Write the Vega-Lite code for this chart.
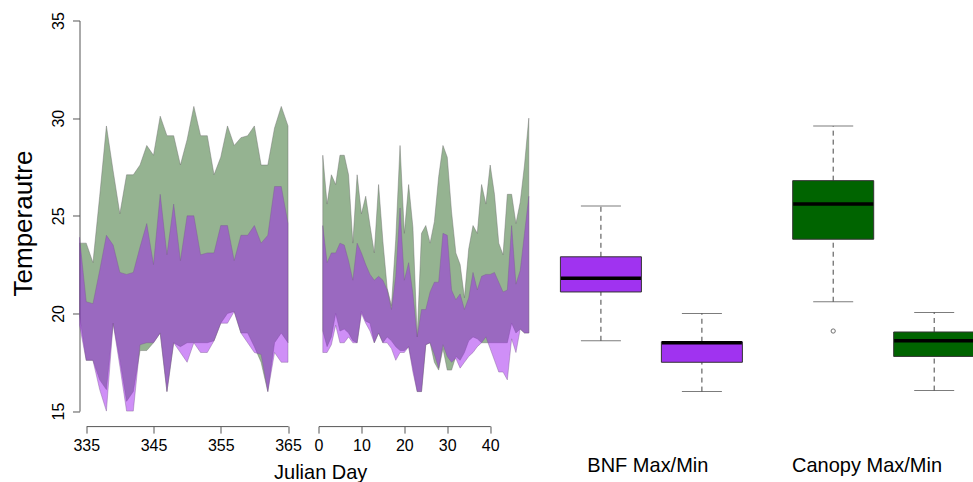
{
  "$schema": "https://vega.github.io/schema/vega-lite/v6.json",
  "background": "white",
  "padding": {"left": 10.5, "top": 11.5, "right": 0, "bottom": 0},
  "bounds": "flush",
  "spacing": 30,
  "config": {
    "view": {"stroke": null},
    "font": "Liberation Sans",
    "axis": {"grid": false, "labelFont": "Liberation Sans", "titleFont": "Liberation Sans", "labelColor": "black", "titleColor": "black", "domainColor": "#555", "tickColor": "#555", "titleFontWeight": "normal", "labelFlush": false, "labelOverlap": false}
  },
  "datasets": {
    "dec": [
      {"day": 334, "can_max": 23.6, "can_min": 19.9, "bnf_max": 23.9, "bnf_min": 19.4},
      {"day": 335, "can_max": 23.6, "can_min": 17.6, "bnf_max": 20.6, "bnf_min": 17.6},
      {"day": 336, "can_max": 22.6, "can_min": 17.6, "bnf_max": 20.5, "bnf_min": 17.6},
      {"day": 337, "can_max": 26.0, "can_min": 16.6, "bnf_max": 22.2, "bnf_min": 16.1},
      {"day": 338, "can_max": 29.6, "can_min": 16.1, "bnf_max": 24.0, "bnf_min": 15.0},
      {"day": 339, "can_max": 27.3, "can_min": 19.5, "bnf_max": 23.5, "bnf_min": 19.5},
      {"day": 340, "can_max": 25.1, "can_min": 17.6, "bnf_max": 22.1, "bnf_min": 17.3},
      {"day": 341, "can_max": 27.1, "can_min": 15.5, "bnf_max": 22.0, "bnf_min": 15.0},
      {"day": 342, "can_max": 27.1, "can_min": 16.0, "bnf_max": 22.1, "bnf_min": 15.0},
      {"day": 343, "can_max": 27.6, "can_min": 18.1, "bnf_max": 23.4, "bnf_min": 18.4},
      {"day": 344, "can_max": 28.6, "can_min": 18.1, "bnf_max": 24.6, "bnf_min": 18.5},
      {"day": 345, "can_max": 28.1, "can_min": 18.5, "bnf_max": 22.5, "bnf_min": 18.5},
      {"day": 346, "can_max": 30.1, "can_min": 19.0, "bnf_max": 26.1, "bnf_min": 19.0},
      {"day": 347, "can_max": 29.1, "can_min": 16.0, "bnf_max": 23.0, "bnf_min": 16.0},
      {"day": 348, "can_max": 29.1, "can_min": 18.5, "bnf_max": 25.6, "bnf_min": 18.5},
      {"day": 349, "can_max": 27.6, "can_min": 18.3, "bnf_max": 22.7, "bnf_min": 18.0},
      {"day": 350, "can_max": 28.9, "can_min": 18.5, "bnf_max": 25.0, "bnf_min": 17.5},
      {"day": 351, "can_max": 30.6, "can_min": 18.5, "bnf_max": 25.0, "bnf_min": 18.5},
      {"day": 352, "can_max": 29.1, "can_min": 18.5, "bnf_max": 23.0, "bnf_min": 18.0},
      {"day": 353, "can_max": 29.1, "can_min": 18.5, "bnf_max": 23.1, "bnf_min": 18.0},
      {"day": 354, "can_max": 27.1, "can_min": 18.6, "bnf_max": 23.1, "bnf_min": 18.6},
      {"day": 355, "can_max": 28.0, "can_min": 19.5, "bnf_max": 24.5, "bnf_min": 19.5},
      {"day": 356, "can_max": 29.6, "can_min": 20.0, "bnf_max": 24.5, "bnf_min": 19.5},
      {"day": 357, "can_max": 28.6, "can_min": 20.1, "bnf_max": 22.7, "bnf_min": 20.1},
      {"day": 358, "can_max": 29.0, "can_min": 19.0, "bnf_max": 24.0, "bnf_min": 19.0},
      {"day": 359, "can_max": 29.1, "can_min": 19.0, "bnf_max": 24.0, "bnf_min": 18.5},
      {"day": 360, "can_max": 29.6, "can_min": 18.3, "bnf_max": 24.5, "bnf_min": 18.0},
      {"day": 361, "can_max": 27.6, "can_min": 17.5, "bnf_max": 23.6, "bnf_min": 17.9},
      {"day": 362, "can_max": 27.6, "can_min": 16.0, "bnf_max": 24.0, "bnf_min": 16.0},
      {"day": 363, "can_max": 29.5, "can_min": 18.5, "bnf_max": 26.5, "bnf_min": 18.0},
      {"day": 364, "can_max": 30.6, "can_min": 19.0, "bnf_max": 26.5, "bnf_min": 17.5},
      {"day": 365, "can_max": 29.6, "can_min": 18.5, "bnf_max": 24.6, "bnf_min": 17.5}
    ],
    "jan": [
      {"day": 1, "can_max": 28.1, "can_min": 19.1, "bnf_max": 24.5, "bnf_min": 18.0},
      {"day": 2, "can_max": 25.6, "can_min": 18.3, "bnf_max": 22.6, "bnf_min": 18.0},
      {"day": 3, "can_max": 27.1, "can_min": 18.8, "bnf_max": 23.1, "bnf_min": 18.4},
      {"day": 4, "can_max": 26.6, "can_min": 20.0, "bnf_max": 23.1, "bnf_min": 19.4},
      {"day": 5, "can_max": 28.1, "can_min": 19.1, "bnf_max": 23.6, "bnf_min": 18.5},
      {"day": 6, "can_max": 28.1, "can_min": 19.2, "bnf_max": 23.5, "bnf_min": 18.5},
      {"day": 7, "can_max": 27.1, "can_min": 19.0, "bnf_max": 22.7, "bnf_min": 18.8},
      {"day": 8, "can_max": 23.6, "can_min": 18.6, "bnf_max": 21.7, "bnf_min": 18.5},
      {"day": 9, "can_max": 27.1, "can_min": 18.5, "bnf_max": 23.6, "bnf_min": 18.5},
      {"day": 10, "can_max": 25.1, "can_min": 20.1, "bnf_max": 23.1, "bnf_min": 20.0},
      {"day": 11, "can_max": 26.0, "can_min": 19.6, "bnf_max": 22.5, "bnf_min": 19.5},
      {"day": 12, "can_max": 24.5, "can_min": 19.5, "bnf_max": 22.0, "bnf_min": 19.1},
      {"day": 13, "can_max": 23.1, "can_min": 18.5, "bnf_max": 21.7, "bnf_min": 18.5},
      {"day": 14, "can_max": 26.6, "can_min": 19.0, "bnf_max": 21.9, "bnf_min": 19.0},
      {"day": 15, "can_max": 23.7, "can_min": 18.5, "bnf_max": 21.7, "bnf_min": 18.5},
      {"day": 16, "can_max": 21.3, "can_min": 18.8, "bnf_max": 21.2, "bnf_min": 18.5},
      {"day": 17, "can_max": 20.4, "can_min": 18.6, "bnf_max": 20.2, "bnf_min": 18.2},
      {"day": 18, "can_max": 23.8, "can_min": 18.3, "bnf_max": 21.9, "bnf_min": 17.6},
      {"day": 19, "can_max": 28.6, "can_min": 18.1, "bnf_max": 25.4, "bnf_min": 18.0},
      {"day": 20, "can_max": 24.1, "can_min": 18.1, "bnf_max": 21.7, "bnf_min": 18.0},
      {"day": 21, "can_max": 26.6, "can_min": 18.3, "bnf_max": 22.6, "bnf_min": 18.3},
      {"day": 22, "can_max": 24.4, "can_min": 17.2, "bnf_max": 21.0, "bnf_min": 17.0},
      {"day": 23, "can_max": 18.8, "can_min": 16.0, "bnf_max": 18.8, "bnf_min": 16.0},
      {"day": 24, "can_max": 24.1, "can_min": 16.0, "bnf_max": 20.2, "bnf_min": 16.0},
      {"day": 25, "can_max": 24.5, "can_min": 18.4, "bnf_max": 20.2, "bnf_min": 18.4},
      {"day": 26, "can_max": 23.6, "can_min": 18.5, "bnf_max": 21.1, "bnf_min": 18.5},
      {"day": 27, "can_max": 24.7, "can_min": 17.5, "bnf_max": 21.6, "bnf_min": 17.9},
      {"day": 28, "can_max": 27.0, "can_min": 17.1, "bnf_max": 21.6, "bnf_min": 17.2},
      {"day": 29, "can_max": 28.6, "can_min": 18.2, "bnf_max": 24.1, "bnf_min": 18.4},
      {"day": 30, "can_max": 28.0, "can_min": 17.1, "bnf_max": 24.0, "bnf_min": 17.8},
      {"day": 31, "can_max": 25.2, "can_min": 17.1, "bnf_max": 21.2, "bnf_min": 17.5},
      {"day": 32, "can_max": 23.1, "can_min": 17.8, "bnf_max": 20.7, "bnf_min": 17.7},
      {"day": 33, "can_max": 22.5, "can_min": 17.6, "bnf_max": 21.0, "bnf_min": 17.2},
      {"day": 34, "can_max": 20.8, "can_min": 18.0, "bnf_max": 20.2, "bnf_min": 17.5},
      {"day": 35, "can_max": 23.3, "can_min": 18.6, "bnf_max": 20.8, "bnf_min": 17.8},
      {"day": 36, "can_max": 24.5, "can_min": 18.8, "bnf_max": 22.1, "bnf_min": 18.0},
      {"day": 37, "can_max": 24.1, "can_min": 18.7, "bnf_max": 21.2, "bnf_min": 18.3},
      {"day": 38, "can_max": 26.6, "can_min": 18.5, "bnf_max": 21.9, "bnf_min": 18.5},
      {"day": 39, "can_max": 25.6, "can_min": 18.5, "bnf_max": 22.0, "bnf_min": 18.8},
      {"day": 40, "can_max": 27.6, "can_min": 18.5, "bnf_max": 22.0, "bnf_min": 18.2},
      {"day": 41, "can_max": 26.1, "can_min": 18.5, "bnf_max": 22.1, "bnf_min": 17.6},
      {"day": 42, "can_max": 23.6, "can_min": 18.5, "bnf_max": 21.6, "bnf_min": 17.0},
      {"day": 43, "can_max": 23.0, "can_min": 18.5, "bnf_max": 21.1, "bnf_min": 17.0},
      {"day": 44, "can_max": 26.1, "can_min": 18.5, "bnf_max": 21.2, "bnf_min": 16.6},
      {"day": 45, "can_max": 26.1, "can_min": 19.5, "bnf_max": 24.5, "bnf_min": 18.7},
      {"day": 46, "can_max": 24.6, "can_min": 19.0, "bnf_max": 21.5, "bnf_min": 18.0},
      {"day": 47, "can_max": 25.7, "can_min": 19.2, "bnf_max": 22.2, "bnf_min": 19.2},
      {"day": 48, "can_max": 27.6, "can_min": 19.0, "bnf_max": 24.1, "bnf_min": 19.0},
      {"day": 49, "can_max": 30.0, "can_min": 19.0, "bnf_max": 26.0, "bnf_min": 19.0}
    ],
    "boxes": [
      {"name": "BNF Max", "site": "BNF", "at": 1.0, "lower": 18.6, "q1": 21.1, "median": 21.8, "q3": 22.9, "upper": 25.5},
      {"name": "BNF Min", "site": "BNF", "at": 2.0, "lower": 16.0, "q1": 17.5, "median": 18.5, "q3": 18.55, "upper": 20.0},
      {"name": "Canopy Max", "site": "Canopy", "at": 3.3, "lower": 20.6, "q1": 23.8, "median": 25.6, "q3": 26.8, "upper": 29.6},
      {"name": "Canopy Min", "site": "Canopy", "at": 4.3, "lower": 16.05, "q1": 17.8, "median": 18.6, "q3": 19.05, "upper": 20.05}
    ],
    "outliers": [
      {"name": "Canopy Max", "at": 3.3, "value": 19.1}
    ]
  },
  "hconcat": [
    {
      "width": 208.5,
      "height": 390.6,
      "data": {"name": "dec"},
      "layer": [
        {
          "mark": {"type": "area", "fill": "#2b6724", "fillOpacity": 0.5, "stroke": "#6d6d6d", "strokeOpacity": 0.55, "strokeWidth": 0.8},
          "encoding": {
            "x": {"field": "day", "type": "quantitative", "scale": {"domain": [334, 365], "nice": false, "zero": false},
              "axis": {"title": null, "values": [335, 340, 345, 350, 355, 360, 365], "labelExpr": "datum.value % 10 == 5 ? datum.label : ''", "offset": 15, "tickSize": 7, "labelPadding": 4, "labelFontSize": 16, "domainDash": [0, 6.7, 201.8, 1000]}},
            "y": {"field": "can_min", "type": "quantitative", "scale": {"domain": [15, 35], "nice": false, "zero": false},
              "axis": {"title": "Temperautre", "values": [15, 20, 25, 30, 35], "tickSize": 7, "labelAngle": -90, "labelAlign": "center", "labelBaseline": "alphabetic", "labelPadding": 9, "labelFontSize": 16, "titleFontSize": 26, "titleAngle": 270, "titleX": -47.6, "titleY": 202.5, "titleAlign": "center", "titleBaseline": "alphabetic"}},
            "y2": {"field": "can_max"}
          }
        },
        {
          "mark": {"type": "area", "fill": "#A020F0", "fillOpacity": 0.5, "stroke": "#7a5a90", "strokeOpacity": 0.5, "strokeWidth": 0.8},
          "encoding": {
            "x": {"field": "day", "type": "quantitative"},
            "y": {"field": "bnf_min", "type": "quantitative"},
            "y2": {"field": "bnf_max"}
          }
        }
      ]
    },
    {
      "width": 210.3,
      "height": 390.6,
      "data": {"name": "jan"},
      "layer": [
        {
          "mark": {"type": "area", "fill": "#2b6724", "fillOpacity": 0.5, "stroke": "#6d6d6d", "strokeOpacity": 0.55, "strokeWidth": 0.8},
          "encoding": {
            "x": {"field": "day", "type": "quantitative", "scale": {"domain": [0, 49], "nice": false, "zero": false},
              "axis": {"title": "Julian Day", "values": [0, 10, 20, 30, 40], "offset": 15, "tickSize": 7, "labelPadding": 4, "labelFontSize": 16, "domainDash": [171.7, 1000], "titleFontSize": 20, "titleX": 1.7, "titleY": 52, "titleAlign": "center", "titleBaseline": "alphabetic"}},
            "y": {"field": "can_min", "type": "quantitative", "scale": {"domain": [15, 35], "nice": false, "zero": false}, "axis": null},
            "y2": {"field": "can_max"}
          }
        },
        {
          "mark": {"type": "area", "fill": "#A020F0", "fillOpacity": 0.5, "stroke": "#7a5a90", "strokeOpacity": 0.5, "strokeWidth": 0.8},
          "encoding": {
            "x": {"field": "day", "type": "quantitative"},
            "y": {"field": "bnf_min", "type": "quantitative"},
            "y2": {"field": "bnf_max"}
          }
        }
      ]
    },
    {
      "width": 415.1,
      "height": 390.6,
      "data": {"name": "boxes"},
      "encoding": {
        "x": {"field": "at", "type": "quantitative", "scale": {"domain": [0.59, 4.7], "nice": false, "zero": false, "padding": 0},
          "axis": {"title": null, "values": [1.46, 3.63], "labelExpr": "datum.value < 2.5 ? 'BNF Max/Min' : 'Canopy Max/Min'", "domain": false, "ticks": false, "labelFontSize": 20, "labelPadding": 44.5}}
      },
      "layer": [
        {
          "mark": {"type": "rule", "color": "#444", "strokeDash": [5, 4], "strokeWidth": 1},
          "encoding": {
            "y": {"field": "lower", "type": "quantitative", "scale": {"domain": [15, 35], "nice": false, "zero": false, "padding": 0}, "axis": null},
            "y2": {"field": "q1"}
          }
        },
        {
          "mark": {"type": "rule", "color": "#444", "strokeDash": [5, 4], "strokeWidth": 1},
          "encoding": {
            "y": {"field": "q3", "type": "quantitative"},
            "y2": {"field": "upper"}
          }
        },
        {
          "mark": {"type": "tick", "orient": "horizontal", "color": "#444", "size": 40, "thickness": 1},
          "encoding": {"y": {"field": "lower", "type": "quantitative"}}
        },
        {
          "mark": {"type": "tick", "orient": "horizontal", "color": "#444", "size": 40, "thickness": 1},
          "encoding": {"y": {"field": "upper", "type": "quantitative"}}
        },
        {
          "mark": {"type": "bar", "size": 81, "stroke": "#333", "strokeWidth": 1, "opacity": 1},
          "encoding": {
            "y": {"field": "q1", "type": "quantitative"},
            "y2": {"field": "q3"},
            "color": {"field": "site", "type": "nominal", "scale": {"domain": ["BNF", "Canopy"], "range": ["#A033F0", "#006400"]}, "legend": null}
          }
        },
        {
          "mark": {"type": "tick", "orient": "horizontal", "color": "black", "size": 80, "thickness": 3.5, "opacity": 1},
          "encoding": {"y": {"field": "median", "type": "quantitative"}}
        },
        {
          "data": {"name": "outliers"},
          "mark": {"type": "point", "shape": "circle", "filled": false, "size": 18, "stroke": "#333", "strokeWidth": 1},
          "encoding": {"y": {"field": "value", "type": "quantitative"}}
        }
      ]
    }
  ]
}
